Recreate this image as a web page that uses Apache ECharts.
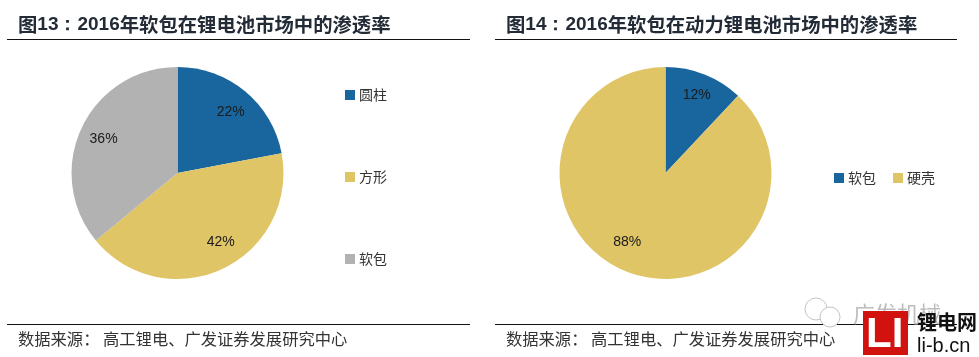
<!DOCTYPE html>
<html>
<head>
<meta charset="utf-8">
<style>html,body{margin:0;padding:0;background:#fff}#chart{width:979px;height:357px}</style>
<script src="https://cdn.jsdelivr.net/npm/echarts@6/dist/echarts.min.js"></script>
</head>
<body>
<div id="chart"></div>
<script>
var leftNames = ["圆柱", "方形", "软包"]
var leftValues = [22, 42, 36]
var rightNames = ["软包", "硬壳"]
var rightValues = [12, 88]
var leftColors = ["#19669f", "#e0c566", "#b2b2b2"]
var rightColors = ["#19669f", "#e0c566"]
var sourceText = "数据来源： 高工锂电、广发证券发展研究中心"

var cjk = "'Noto Sans CJK SC'"
var latin = "'Liberation Sans'"

function pieData(names, values, colors) {
  return names.map(function (n, i) {
    return { name: n, value: values[i], itemStyle: { color: colors[i] } }
  })
}

function legendData(names, colors) {
  return names.map(function (n, i) {
    return { name: n, itemStyle: { color: colors[i] } }
  })
}

// 底层整圆 + 透明圆环放标签，让百分比落在约80%半径处
function pieSeries(names, values, colors, center, nudges) {
  return [
    {
      type: "pie",
      center: center,
      radius: [0, 106],
      silent: true,
      label: { show: false },
      labelLine: { show: false },
      data: pieData(names, values, colors)
    },
    {
      type: "pie",
      center: center,
      radius: [58, 106],
      silent: true,
      itemStyle: { color: "transparent" },
      label: {
        show: true,
        position: "inside",
        formatter: "{c}%",
        color: "#1a1a1a",
        fontSize: 14,
        fontFamily: latin
      },
      labelLine: { show: false },
      labelLayout: function (params) {
        var n = nudges[params.dataIndex]
        return { dx: n[0], dy: n[1] }
      },
      data: names.map(function (n, i) {
        return { name: n, value: values[i], itemStyle: { color: "transparent" } }
      })
    }
  ]
}

function heading(num, rest, x) {
  return {
    text: "{c|图}{n|" + num + "：2016}{c|" + rest + "}",
    left: x,
    top: 13,
    padding: 0,
    textStyle: {
      rich: {
        c: { fontFamily: cjk, fontSize: 19.35, color: "#222b36", lineHeight: 24 },
        n: { fontFamily: latin, fontWeight: "bold", fontSize: 19, color: "#222b36", lineHeight: 24 }
      }
    }
  }
}

function hline(x1, x2, y) {
  return { type: "line", shape: { x1: x1, y1: y, x2: x2, y2: y }, style: { stroke: "#111", lineWidth: 1.2 } }
}

function source(x) {
  return {
    type: "text",
    x: x,
    y: 331,
    style: { text: sourceText, fontFamily: cjk, fontSize: 16.3, fill: "#333" }
  }
}

function bubble(cx, cy, r) {
  return {
    type: "circle",
    shape: { cx: cx, cy: cy, r: r },
    style: { fill: "#fff", stroke: "#c4c4c4", lineWidth: 1 }
  }
}

var chart = echarts.init(document.getElementById("chart"))
chart.setOption({
  animation: false,
  backgroundColor: "#fff",
  title: [heading("13", "年软包在锂电池市场中的渗透率", 18), heading("14", "年软包在动力锂电池市场中的渗透率", 506)],
  legend: [
    {
      orient: "vertical",
      left: 345,
      top: 88,
      padding: 0,
      itemWidth: 10,
      itemHeight: 10,
      itemGap: 68,
      icon: "rect",
      selectedMode: false,
      textStyle: { fontFamily: cjk, fontSize: 14, color: "#333", padding: [0, 0, 0, -1] },
      data: legendData(leftNames, leftColors)
    },
    {
      orient: "horizontal",
      left: 834,
      top: 171,
      padding: 0,
      itemWidth: 10,
      itemHeight: 10,
      itemGap: 17,
      icon: "rect",
      selectedMode: false,
      textStyle: { fontFamily: cjk, fontSize: 14, color: "#333", padding: [0, 0, 0, -1] },
      data: legendData(rightNames, rightColors)
    }
  ],
  series: pieSeries(leftNames, leftValues, leftColors, [177.5, 173], [[-1, 5], [7, -8], [3, 2]]).concat(
    pieSeries(rightNames, rightValues, rightColors, [665.5, 173], [[0, 1], [-7, -10]])
  ),
  graphic: [
    hline(7, 470, 39.5),
    hline(495, 957, 39.5),
    hline(7, 470, 324.5),
    hline(495, 957, 324.5),
    source(18),
    source(506),
    // 水印
    bubble(816, 309, 11),
    bubble(830, 317, 10),
    { type: "text", x: 853, y: 303, style: { text: "广发机械", fontFamily: cjk, fontSize: 22, fill: "#bdbdbd" } },
    { type: "rect", shape: { x: 863, y: 311, width: 45, height: 44 }, style: { fill: "#d2120f" } },
    { type: "text", x: 866, y: 314, style: { text: "LI", fontFamily: latin, fontWeight: "bold", fontSize: 42, fill: "#fff" } },
    { type: "text", x: 917, y: 312, style: { text: "锂电网", fontFamily: cjk, fontWeight: "bold", fontSize: 20, fill: "#111" } },
    { type: "text", x: 917, y: 336, style: { text: "li-b.cn", fontFamily: latin, fontSize: 20, fill: "#111" } }
  ]
})
</script>
</body>
</html>
